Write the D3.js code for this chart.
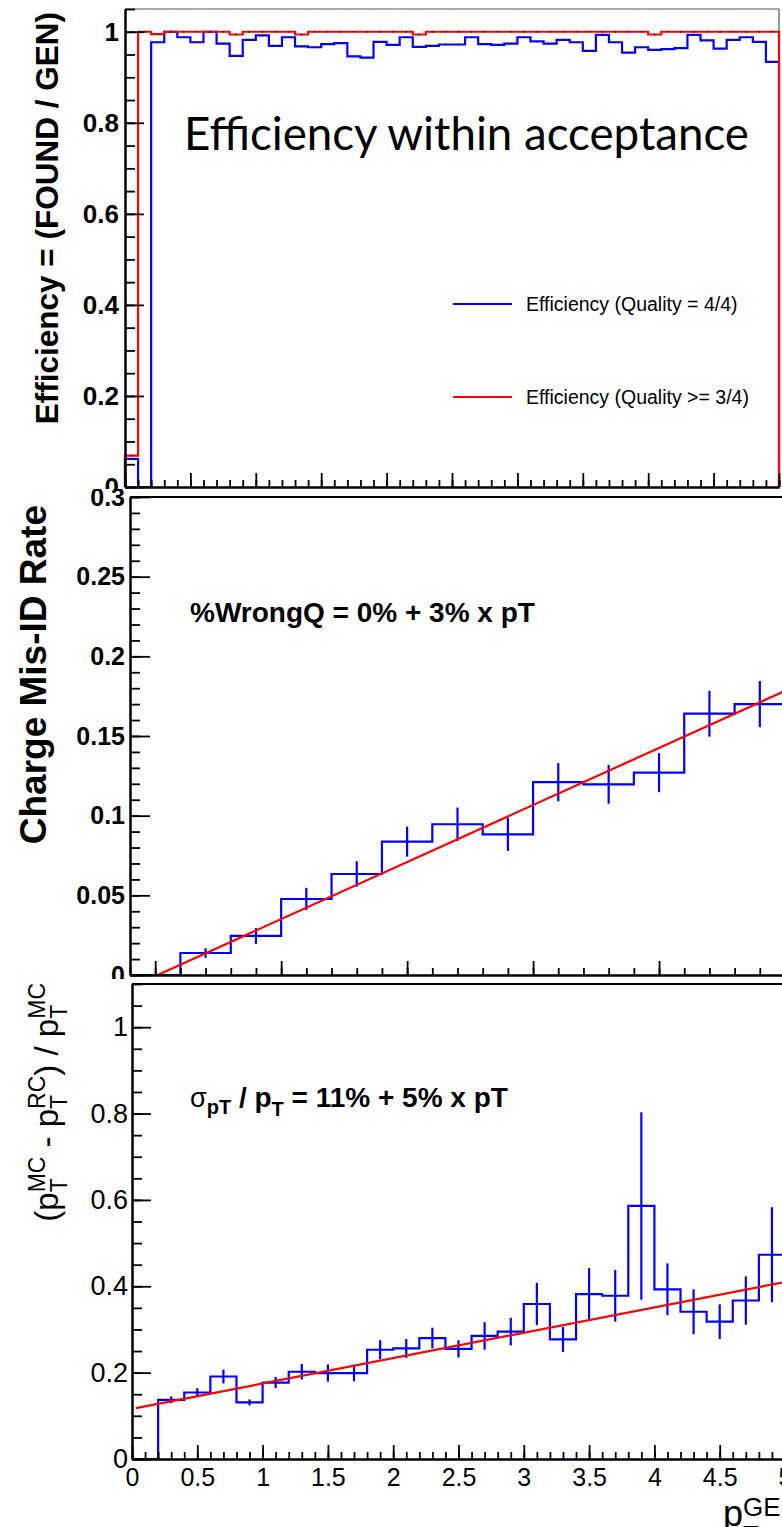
<!DOCTYPE html>
<html>
<head>
<meta charset="utf-8">
<script src="https://cdn.jsdelivr.net/npm/d3@7"></script>
<style>
  body { margin: 0; background: #fff; }
  svg { display: block; }
</style>
</head>
<body>
<script>
// ---- data ----
// top: efficiency per 0.1 GeV bin, 0..5
const effLo = 0, effWidth = 0.1;
const effQ4 = [0.062, 0, 0.977, 1.0, 0.988, 0.977, 1.0, 0.974, 0.947, 0.982,
               0.992, 0.969, 0.988, 0.968, 0.966, 0.973, 0.975, 0.946, 0.943, 0.978,
               0.971, 0.988, 0.967, 0.969, 0.972, 0.972, 0.988, 0.973, 0.971, 0.974,
               0.988, 0.979, 0.974, 0.982, 0.977, 0.958, 0.993, 0.977, 0.954, 0.966,
               0.960, 0.962, 0.964, 0.993, 0.981, 0.963, 0.982, 0.988, 0.978, 0.934];
const effQ3 = [0.069, 1.0, 0.995, 1.0, 1.0, 1.0, 1.0, 1.0, 0.994, 1.0,
               1.0, 1.0, 1.0, 0.994, 1.0, 1.0, 1.0, 1.0, 1.0, 1.0,
               1.0, 1.0, 0.994, 1.0, 1.0, 1.0, 1.0, 1.0, 1.0, 1.0,
               1.0, 1.0, 1.0, 1.0, 1.0, 1.0, 1.0, 1.0, 1.0, 1.0,
               0.994, 1.0, 1.0, 1.0, 1.0, 1.0, 1.0, 1.0, 1.0, 1.0];
const effTicks = [0, 0.2, 0.4, 0.6, 0.8, 1];

// middle: charge mis-ID rate, 0.4 GeV bins from -0.2
const misLo = -0.2, misWidth = 0.4;
const misRate = [0, 0.0138, 0.0245, 0.0477, 0.0634, 0.0837, 0.0946, 0.0883, 0.121, 0.1197, 0.127, 0.164, 0.170];
const misErr  = [0, 0.003, 0.005, 0.007, 0.008, 0.0094, 0.0105, 0.0104, 0.012, 0.0122, 0.0122, 0.0144, 0.0145];
const misFit = { p0: -0.0007, p1: 0.0358, from: 0.02, to: 5.0 };
const misTicks = [0, 0.05, 0.1, 0.15, 0.2, 0.25, 0.3];

// bottom: pT resolution, 0.2 GeV bins from 0
const resLo = 0, resWidth = 0.2;
const resVal = [0, 0.137, 0.154, 0.191, 0.131, 0.177, 0.202, 0.199, 0.199, 0.253,
                0.256, 0.280, 0.255, 0.285, 0.295, 0.359, 0.277, 0.382, 0.378, 0.586,
                0.393, 0.341, 0.318, 0.367, 0.473];
const resErr = [0, 0.008, 0.010, 0.016, 0.007, 0.013, 0.018, 0.020, 0.019, 0.022,
                0.022, 0.024, 0.020, 0.032, 0.032, 0.049, 0.029, 0.060, 0.060, 0.217,
                0.060, 0.052, 0.040, 0.056, 0.110];
const resFit = { p0: 0.116, p1: 0.0588, from: 0.03, to: 5.0 };
const resTicks = [0, 0.2, 0.4, 0.6, 0.8, 1];
const ptTicks = [0, 0.5, 1, 1.5, 2, 2.5, 3, 3.5, 4, 4.5, 5];

// ---- drawing ----
const W = 782, H = 1527;
const FONT = "'Liberation Sans', Arial, Helvetica, sans-serif";
const BLUE = "#0000ff", RED = "#ff0000";

const svg = d3.select("body").append("svg").attr("width", W).attr("height", H);
const defs = svg.append("defs");

function pad(id, y0, h) {
  defs.append("clipPath").attr("id", id)
    .append("rect").attr("x", 0).attr("y", y0).attr("width", W).attr("height", h);
  return svg.append("g").attr("clip-path", `url(#${id})`);
}

function histPoints(lo, width, vals) {
  const pts = [[lo, 0]];
  vals.forEach((v, i) => pts.push([lo + i * width, v]));
  const hi = lo + vals.length * width;
  pts.push([hi, vals[vals.length - 1]]);
  pts.push([hi, 0]);
  return pts;
}

function drawHist(g, x, y, lo, width, vals, color, sw) {
  const line = d3.line().x(d => x(d[0])).y(d => y(d[1])).curve(d3.curveStepAfter);
  g.append("path").datum(histPoints(lo, width, vals))
    .attr("d", line).attr("fill", "none").attr("stroke", color).attr("stroke-width", sw);
}

function drawErrors(g, x, y, lo, width, vals, errs) {
  g.selectAll(null).data(vals.map((v, i) => ({ c: lo + (i + 0.5) * width, v, e: errs[i] })).filter(d => d.e > 0))
    .enter().append("line")
    .attr("x1", d => x(d.c)).attr("x2", d => x(d.c))
    .attr("y1", d => y(d.v - d.e)).attr("y2", d => y(d.v + d.e))
    .attr("stroke", BLUE).attr("stroke-width", 2.2);
}

function drawFit(g, x, y, fit) {
  const f = t => fit.p0 + fit.p1 * t;
  g.append("path").datum([fit.from, fit.to])
    .attr("d", d3.line().x(t => x(t)).y(t => y(f(t))))
    .attr("fill", "none").attr("stroke", RED).attr("stroke-width", 2.2);
}

function styleAxis(a, fs, fw) {
  a.select(".domain").attr("stroke", "#000").attr("stroke-width", 2);
  a.selectAll(".tick line").attr("stroke", "#000").attr("stroke-width", 1.8);
  a.attr("font-family", FONT).attr("font-size", fs).attr("font-weight", fw);
  a.selectAll(".tick text").attr("fill", "#000");
}

function leftAxis(g, x0, y, major, minor, majLen, minLen, padPx, fs, fw) {
  const mi = g.append("g").attr("transform", `translate(${x0},0)`)
    .call(d3.axisLeft(y).tickValues(minor).tickSize(-minLen).tickSizeOuter(0).tickFormat(""));
  styleAxis(mi, fs, fw);
  const ma = g.append("g").attr("transform", `translate(${x0},0)`)
    .call(d3.axisLeft(y).tickValues(major).tickSize(-majLen).tickSizeOuter(0)
      .tickPadding(padPx).tickFormat(d3.format("~g")));
  styleAxis(ma, fs, fw);
}

function bottomAxis(g, y0, x, major, minor, labels, fs) {
  const mi = g.append("g").attr("transform", `translate(0,${y0})`)
    .call(d3.axisBottom(x).tickValues(minor).tickSize(-7).tickSizeOuter(0).tickFormat(""));
  styleAxis(mi, fs, "normal");
  const ma = g.append("g").attr("transform", `translate(0,${y0})`)
    .call(d3.axisBottom(x).tickValues(major).tickSize(-14).tickSizeOuter(0)
      .tickPadding(9).tickFormat(labels ? d3.format("~g") : ""));
  styleAxis(ma, fs, "normal");
}

// text built from pieces (sub / superscripts stacked like ROOT's TLatex)
function rich(parent, parts, tx, ty, rotTopEnd) {
  const g = parent.append("g");
  let cx = 0, baseX = 0;
  parts.forEach(p => {
    const px = p.stack ? baseX : cx;
    const t = g.append("text").attr("x", px).attr("y", p.dy || 0)
      .attr("font-family", p.ff || FONT).attr("font-size", p.fs)
      .attr("font-weight", p.fw || "normal").attr("fill", "#000")
      .style("white-space", "pre").text(p.t);
    const w = t.node().getComputedTextLength();
    if (p.stack) cx = Math.max(cx, baseX + w);
    else { baseX = cx; cx += w; }
  });
  if (rotTopEnd) g.attr("transform", `translate(${tx},${ty + cx}) rotate(-90)`);
  else g.attr("transform", `translate(${tx},${ty})`);
  return g;
}

function rotLabel(g, text, x, yTop, fs, fw) {
  g.append("text").attr("transform", `translate(${x},${yTop}) rotate(-90)`)
    .attr("text-anchor", "end").attr("font-family", FONT)
    .attr("font-size", fs).attr("font-weight", fw).attr("fill", "#000").text(text);
}

// ================= top pad: efficiency =================
{
  const g = pad("padTop", 0, 489);
  const x = d3.scaleLinear().domain([0, 5]).range([125, 779]);
  const y = d3.scaleLinear().domain([0, 1.05]).range([487, 9]);

  // thin frame top / right
  g.append("path").attr("d", `M${x(0)},${y(1.05)}H${x(5)}V${y(0)}`)
    .attr("fill", "none").attr("stroke", "#555").attr("stroke-width", 1.2);

  drawHist(g, x, y, effLo, effWidth, effQ4, BLUE, 2.2);
  drawHist(g, x, y, effLo, effWidth, effQ3, RED, 2.2);

  // bin markers (small dots as in ROOT)
  [effQ4, effQ3].forEach(vals => {
    g.selectAll(null).data(vals.map((v, i) => [effLo + (i + 0.5) * effWidth, v]).filter(d => d[1] > 0))
      .enter().append("circle")
      .attr("cx", d => x(d[0])).attr("cy", d => y(d[1])).attr("r", 0.9).attr("fill", "#222");
  });

  leftAxis(g, x(0), y, effTicks, d3.range(0, 1.051, 0.05), 19, 10, 6, 26, "bold");
  bottomAxis(g, y(0), x, ptTicks, d3.range(0, 5.001, 0.1), false, 20);

  rotLabel(g, "Efficiency = (FOUND / GEN)", 58, 12, 31.5, "bold");

  const title = g.append("text").attr("x", 184).attr("y", 150)
    .attr("font-family", "Lato, 'Open Sans', sans-serif").attr("font-size", 46)
    .attr("fill", "#000").text("Efficiency within acceptance");
  const tw = title.node().getComputedTextLength();
  title.attr("font-size", 46 * 565 / tw);

  const legend = [
    { label: "Efficiency (Quality = 4/4)", color: BLUE, ly: 304 },
    { label: "Efficiency (Quality >= 3/4)", color: RED, ly: 397 }
  ];
  const lg = g.selectAll(".leg").data(legend).enter().append("g").attr("class", "leg");
  lg.append("line").attr("x1", 453).attr("x2", 512).attr("y1", d => d.ly).attr("y2", d => d.ly)
    .attr("stroke", d => d.color).attr("stroke-width", 2);
  lg.append("text").attr("x", 526).attr("y", d => d.ly + 6.5)
    .attr("font-family", FONT).attr("font-size", 19.5).attr("fill", "#000").text(d => d.label);
}

// ================= middle pad: charge mis-ID =================
{
  const g = pad("padMid", 489, 490);
  const x = d3.scaleLinear().domain([-0.2, 5]).range([130, 785]);
  const y = d3.scaleLinear().domain([0, 0.3]).range([975, 497]);

  g.append("line").attr("x1", x(-0.2)).attr("x2", x(5)).attr("y1", y(0.3)).attr("y2", y(0.3))
    .attr("stroke", "#000").attr("stroke-width", 2);

  drawHist(g, x, y, misLo, misWidth, misRate, BLUE, 2.2);
  drawErrors(g, x, y, misLo, misWidth, misRate, misErr);
  drawFit(g, x, y, misFit);

  leftAxis(g, x(-0.2), y, misTicks, d3.range(0, 0.3001, 0.01), 20, 10, 5, 25, "bold");
  bottomAxis(g, y(0), x, [0, 1, 2, 3, 4, 5], d3.range(-0.2, 5.001, 0.2), false, 20);

  rotLabel(g, "Charge Mis-ID Rate", 46, 505, 37, "bold");

  g.append("text").attr("x", 190).attr("y", 622)
    .attr("font-family", FONT).attr("font-size", 28).attr("font-weight", "bold")
    .attr("fill", "#000").text("%WrongQ = 0% + 3% x pT");
}

// ================= bottom pad: pT resolution =================
{
  const g = pad("padBot", 979, 548);
  const x = d3.scaleLinear().domain([0, 5]).range([132, 785]);
  const y = d3.scaleLinear().domain([0, 1.1]).range([1459, 984]);

  g.append("line").attr("x1", x(0)).attr("x2", x(5)).attr("y1", y(1.1)).attr("y2", y(1.1))
    .attr("stroke", "#000").attr("stroke-width", 2);

  drawHist(g, x, y, resLo, resWidth, resVal, BLUE, 2.2);
  drawErrors(g, x, y, resLo, resWidth, resVal, resErr);
  drawFit(g, x, y, resFit);

  leftAxis(g, x(0), y, resTicks, d3.range(0, 1.101, 0.05), 19, 10, 4, 27, "normal");
  bottomAxis(g, y(0), x, ptTicks, d3.range(0, 5.001, 0.1), true, 25);

  rich(g, [
    { t: "(p", fs: 33 }, { t: "T", fs: 23, dy: 9 }, { t: "MC", fs: 23, dy: -13, stack: true },
    { t: " - p", fs: 33 }, { t: "T", fs: 23, dy: 9 }, { t: "RC", fs: 23, dy: -13, stack: true },
    { t: ") / p", fs: 33 }, { t: "T", fs: 23, dy: 9 }, { t: "MC", fs: 23, dy: -13, stack: true }
  ], 58, 983, true);

  rich(g, [
    { t: "σ", fs: 27 },
    { t: "pT", fs: 20, fw: "bold", dy: 7 },
    { t: " / p", fs: 28, fw: "bold" },
    { t: "T", fs: 20, fw: "bold", dy: 9 },
    { t: " = 11% + 5% x pT", fs: 28, fw: "bold" }
  ], 190, 1107, false);

  rich(g, [
    { t: "p", fs: 36 },
    { t: "T", fs: 26, dy: 18 },
    { t: "GEN", fs: 26, dy: -10, stack: true }
  ], 723, 1526, false);
}
</script>
</body>
</html>
